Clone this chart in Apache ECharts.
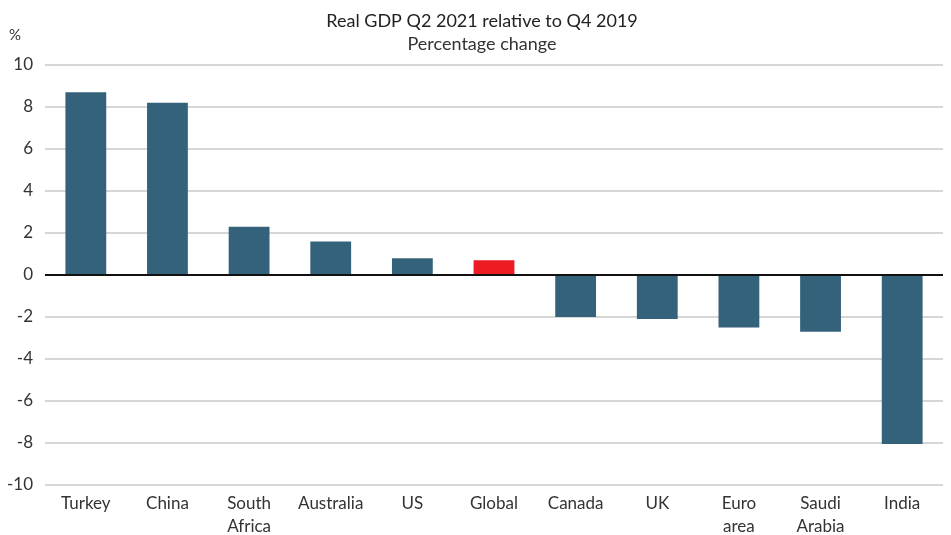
<!DOCTYPE html>
<html>
<head>
<meta charset="utf-8">
<script src="https://cdn.jsdelivr.net/npm/echarts@6/dist/echarts.min.js"></script>
<style>
  html, body { margin: 0; padding: 0; background: #fff; }
  #chart { width: 951px; height: 535px; }
</style>
</head>
<body>
<div id="chart"></div>
<script>
// 各国实际GDP变化
const categories = ['Turkey', 'China', 'South\nAfrica', 'Australia', 'US', 'Global', 'Canada', 'UK', 'Euro\narea', 'Saudi\nArabia', 'India']
const values = [8.7, 8.2, 2.3, 1.6, 0.8, 0.7, -2.0, -2.1, -2.5, -2.7, -8.05]
const highlight = 'Global'

const barColor = '#34627b'
const redColor = '#ed1c24'
const font = 'Lato, "Open Sans", sans-serif'

const chart = echarts.init(document.getElementById('chart'))
const option = {
  animation: false,
  title: {
    text: 'Real GDP Q2 2021 relative to Q4 2019',
    subtext: 'Percentage change',
    left: 477,
    textAlign: 'center',
    top: 7,
    itemGap: 5,
    textStyle: { fontFamily: font, fontSize: 18, fontWeight: 'normal', color: '#222' },
    subtextStyle: { fontFamily: font, fontSize: 18, color: '#333' }
  },
  grid: { left: 45, right: 8, top: 65, bottom: 50, outerBoundsMode: 'none', containLabel: false },
  xAxis: {
    type: 'category',
    data: categories,
    axisLine: { show: false, onZero: false },
    axisTick: { show: false },
    axisLabel: {
      interval: 0,
      margin: 7,
      fontFamily: font,
      fontSize: 17,
      lineHeight: 23,
      color: '#333',
      verticalAlign: 'top'
    }
  },
  yAxis: {
    type: 'value',
    min: -10,
    max: 10,
    interval: 2,
    name: '%',
    nameLocation: 'end',
    nameGap: 22,
    nameTextStyle: { fontFamily: font, fontSize: 15, color: '#333', align: 'right', padding: [0, 24, 0, 0] },
    axisLine: { show: false },
    axisTick: { show: false },
    axisLabel: { fontFamily: font, fontSize: 17, color: '#333', margin: 12 },
    splitLine: { lineStyle: { color: '#c8c8c8', width: 1.5 } }
  },
  series: [{
    type: 'bar',
    barWidth: '50%',
    data: values.map((v, i) => ({
      value: v,
      itemStyle: { color: categories[i] === highlight ? redColor : barColor }
    })),
    markLine: {
      silent: true,
      symbol: 'none',
      label: { show: false },
      lineStyle: { color: '#111', width: 2, type: 'solid' },
      data: [{ yAxis: 0 }]
    }
  }]
}
chart.setOption(option)
</script>
</body>
</html>
